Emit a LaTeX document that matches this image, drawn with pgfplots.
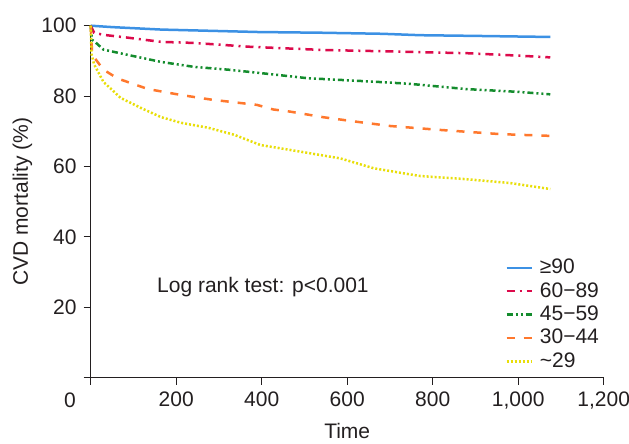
\documentclass[border=0pt]{standalone}
\usepackage{fontspec}
\setmainfont{Liberation Sans}
\usepackage{pgfplots}
\pgfplotsset{compat=1.18}

\definecolor{axisgray}{RGB}{35,31,32}
\definecolor{cblue}{RGB}{60,145,228}
\definecolor{cred}{RGB}{220,10,75}
\definecolor{cgreen}{RGB}{20,140,45}
\definecolor{corange}{RGB}{255,120,45}
\definecolor{cyellow}{RGB}{232,222,10}

\newcommand{\chartfont}{\fontsize{21}{25}\selectfont}

\begin{document}
\chartfont
\begin{tikzpicture}
% page is the 629x444 reference, 1px = 1pt, origin at the axis corner
\path[use as bounding box] (-90.7pt,-66.3pt) rectangle (538.3pt,377.7pt);
\begin{axis}[
    at={(0pt,0pt)}, anchor=south west,
    scale only axis, width=513pt, height=352pt,
    xmin=0, xmax=1200, ymin=0, ymax=100,
    clip=false,
    axis lines=left, axis line style={-, draw=axisgray, line width=0.9pt},
    xtick={0,200,...,1200},
    xticklabels={{},200,400,600,800,{1,000},{1,200}},
    ytick={0,20,...,100},
    yticklabels={{},20,40,60,80,100},
    tick align=outside, major tick length=7pt,
    tick style={draw=axisgray, line width=0.9pt},
    tick label style={font=\chartfont, text=axisgray},
    /pgf/number format/assume math mode=true,
    xlabel={Time}, ylabel={CVD mortality (\%)},
    label style={font=\chartfont, text=axisgray},
    ylabel style={yshift=-5pt},
    legend style={at={(0.808,0.344)}, anchor=north west, draw=none, fill=none,
        font=\chartfont, text=axisgray, row sep=1.5pt, inner sep=0pt,
        nodes={inner sep=1pt, text height=0.75em, text depth=0.2em},
        /tikz/every odd column/.append style={column sep=6pt}},
    legend cell align=left,
    legend image code/.code={\draw[#1] (0pt,0pt) -- (25pt,0pt);},
    every axis plot/.append style={line width=2.5pt},
  ]
  % >=90
  \addplot[cblue] coordinates {
    (0,100)(50,99.6)(165,98.9)(393,98.2)(540,98.0)(682,97.7)(771,97.3)(900,97.1)(1075,96.8)
  };
  % 60-89
  \addplot[cred, dash pattern=on 8pt off 5pt on 2pt off 5pt] coordinates {
    (0,100)(8,98)(30,97.4)(87,96.6)(165,95.4)(242,95.1)(374,94.0)(544,93.1)(698,92.7)
    (800,92.4)(878,92.2)(1000,91.5)(1075,91.0)
  };
  % 45-59
  \addplot[cgreen, dash pattern=on 6pt off 3pt on 2pt off 3pt on 2pt off 3pt] coordinates {
    (0,100)(3,96)(10,95.4)(30,93.2)(87,91.7)(165,89.7)(242,88.3)(322,87.5)(393,86.6)
    (506,85.1)(662,84.1)(745,83.5)(878,82.0)(1000,81.2)(1075,80.5)
  };
  % 30-44
  \addplot[corange, dash pattern=on 8pt off 9pt] coordinates {
    (0,100)(3,93)(8,91)(30,87.5)(63,85)(134,82)(212,80.3)(282,79)(353,78)(389,77.5)
    (427,76.2)(466,75.6)(544,74)(623,72.7)(701,71.5)(816,70.4)(958,69.2)(1075,68.7)
  };
  % ~29
  \addplot[cyellow, dash pattern=on 2pt off 2pt] coordinates {
    (0,100)(2,92)(8,89)(30,84)(70,79.5)(118,76.6)(165,74)(212,72.4)(275,71)(336,69)
    (397,66.1)(427,65.5)(506,63.9)(584,62.3)(662,59.5)(740,57.9)(771,57.3)(878,56.4)
    (981,55.3)(1075,53.6)
  };
  \legend{≥90, 60−89, 45−59, 30−44, \textasciitilde{}29}
  \node[anchor=west, font=\chartfont, text=axisgray, inner sep=0pt] at (axis cs:155,25.8) {Log rank test: p<0.001};
  \node[font=\chartfont, text=axisgray, inner sep=0pt, xshift=-20.7pt, yshift=-22.5pt] at (axis cs:0,0) {0};
\end{axis}
\end{tikzpicture}
\end{document}
